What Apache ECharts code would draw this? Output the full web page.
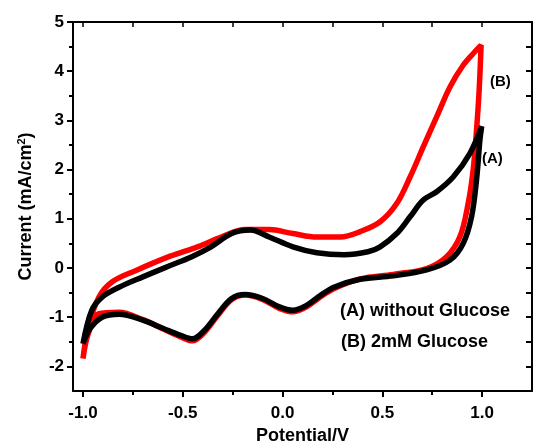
<!DOCTYPE html>
<html><head><meta charset="utf-8">
<script src="https://cdn.jsdelivr.net/npm/echarts@6/dist/echarts.min.js"></script>
<style>html,body{margin:0;padding:0;background:#fff}#c{width:534px;height:441px}</style>
</head><body><div id="c"></div>
<script>
// Curve (A) without glucose: potential (V) and current (mA/cm2), loop starting at -1.0 V
const potentialA = [-1.0,-0.956,-0.904,-0.819,-0.70,-0.563,-0.46,-0.358,-0.255,-0.161,-0.067,0.052,0.172,0.308,0.428,0.489,0.572,0.639,0.705,0.772,0.855,0.939,0.998,
  0.989,0.972,0.947,0.905,0.839,0.722,0.555,0.389,0.257,0.189,0.12,0.052,-0.016,-0.10,-0.187,-0.255,-0.324,-0.392,-0.452,-0.51,-0.597,-0.70,-0.819,-0.904,-0.964,-1.0];
const currentA = [-1.54,-0.86,-0.59,-0.39,-0.18,0.05,0.22,0.43,0.70,0.77,0.63,0.43,0.31,0.27,0.33,0.43,0.70,1.04,1.38,1.55,1.85,2.33,2.88,
  2.60,1.79,1.04,0.50,0.16,-0.04,-0.16,-0.23,-0.39,-0.56,-0.76,-0.86,-0.79,-0.62,-0.54,-0.62,-0.93,-1.27,-1.44,-1.37,-1.23,-1.06,-0.94,-1.0,-1.23,-1.54];
// Curve (B) 2mM glucose
const potentialB = [-1.0,-0.973,-0.92,-0.853,-0.734,-0.563,-0.426,-0.307,-0.187,-0.067,0.052,0.172,0.291,0.389,0.489,0.572,0.639,0.705,0.772,0.839,0.905,0.96,0.995,
  0.985,0.972,0.955,0.93,0.889,0.822,0.722,0.555,0.389,0.257,0.189,0.12,0.052,-0.016,-0.10,-0.187,-0.255,-0.324,-0.392,-0.452,-0.51,-0.597,-0.70,-0.819,-0.92,-0.973,-1.0];
const currentB = [-1.84,-1.2,-0.59,-0.28,-0.05,0.24,0.43,0.63,0.78,0.78,0.70,0.63,0.63,0.74,0.94,1.31,1.85,2.46,3.07,3.68,4.12,4.38,4.53,
  3.60,2.80,1.99,1.31,0.64,0.23,-0.01,-0.13,-0.22,-0.42,-0.59,-0.79,-0.89,-0.82,-0.64,-0.55,-0.64,-0.96,-1.31,-1.48,-1.40,-1.24,-1.05,-0.90,-0.93,-1.33,-1.84];
const xMajor = [-1.0,-0.5,0.0,0.5,1.0];
const xMinor = [-0.75,-0.25,0.25,0.75];
const yMajor = [-2,-1,0,1,2,3,4,5];
const yMinor = [-1.5,-0.5,0.5,1.5,2.5,3.5,4.5];
const yAll = [-2.5,-2,-1.5,-1,-0.5,0,0.5,1,1.5,2,2.5,3,3.5,4,4.5,5];

const FONT = '"Liberation Sans", Arial, sans-serif';
const zip = (xs, ys) => xs.map((x, i) => [x, ys[i]]);
const chart = echarts.init(document.getElementById('c'));
const xr = {min: -1.05, max: 1.25};
const yr = {min: -2.5, max: 5};
const line = {show: true, onZero: false, lineStyle: {color: '#000', width: 2}};
const noLine = {show: false, onZero: false};
chart.setOption({
  animation: false,
  grid: {left: 73, right: 2, top: 22, bottom: 50, containLabel: false, outerBoundsMode: 'none'},
  xAxis: [
    {type: 'value', position: 'bottom', ...xr, axisLine: line, splitLine: {show: false},
     axisTick: {show: true, customValues: xMajor, length: 6, lineStyle: {color: '#000', width: 2}},
     axisLabel: {customValues: xMajor, formatter: v => v.toFixed(1), color: '#000', fontFamily: FONT, fontWeight: 'bold', fontSize: 17, margin: 14},
     name: 'Potential/V', nameLocation: 'middle', nameGap: 30,
     nameTextStyle: {color: '#000', fontFamily: FONT, fontWeight: 'bold', fontSize: 18}},
    {type: 'value', position: 'bottom', ...xr, axisLine: noLine, splitLine: {show: false},
     axisTick: {show: true, customValues: xMinor, length: 4, lineStyle: {color: '#000', width: 2}},
     axisLabel: {show: false}},
    {type: 'value', position: 'top', ...xr, axisLine: line, splitLine: {show: false},
     axisTick: {show: true, inside: true, customValues: xMajor.concat(xMinor), length: 5, lineStyle: {color: '#000', width: 1.5}},
     axisLabel: {show: false}}
  ],
  yAxis: [
    {type: 'value', position: 'left', ...yr, axisLine: line, splitLine: {show: false},
     axisTick: {show: true, customValues: yMajor, length: 6, lineStyle: {color: '#000', width: 2}},
     axisLabel: {customValues: yMajor, color: '#000', fontFamily: FONT, fontWeight: 'bold', fontSize: 17, margin: 9},
     name: 'Current (mA/cm{sup|2})', nameLocation: 'middle', nameGap: 36, nameRotate: 90,
     nameTextStyle: {color: '#000', fontFamily: FONT, fontWeight: 'bold', fontSize: 18,
       rich: {sup: {fontFamily: FONT, fontWeight: 'bold', fontSize: 11, verticalAlign: 'top', padding: [0, 0, 10, 0]}}}},
    {type: 'value', position: 'left', ...yr, axisLine: noLine, splitLine: {show: false},
     axisTick: {show: true, customValues: yMinor, length: 4, lineStyle: {color: '#000', width: 2}},
     axisLabel: {show: false}},
    {type: 'value', position: 'right', ...yr, axisLine: line, splitLine: {show: false},
     axisTick: {show: true, inside: true, customValues: yAll, length: 6, lineStyle: {color: '#000', width: 2}},
     axisLabel: {show: false}}
  ],
  series: [
    {type: 'line', name: '(B) 2mM Glucose', data: zip(potentialB, currentB), smooth: 0.35, showSymbol: false,
     lineStyle: {color: '#ff0000', width: 5.5}, xAxisIndex: 0, yAxisIndex: 0},
    {type: 'line', name: '(A) without Glucose', data: zip(potentialA, currentA), smooth: 0.35, showSymbol: false,
     lineStyle: {color: '#000000', width: 5.5}, xAxisIndex: 0, yAxisIndex: 0}
  ],
  graphic: [
    {type: 'text', left: 490, top: 74, style: {text: '(B)', font: 'bold 15px ' + FONT, fill: '#000'}},
    {type: 'text', left: 482, top: 151, style: {text: '(A)', font: 'bold 15px ' + FONT, fill: '#000'}},
    {type: 'text', left: 340, top: 302, style: {text: '(A) without Glucose', font: 'bold 18px ' + FONT, fill: '#000'}},
    {type: 'text', left: 341, top: 333, style: {text: '(B) 2mM Glucose', font: 'bold 18px ' + FONT, fill: '#000'}}
  ]
});
</script></body></html>
